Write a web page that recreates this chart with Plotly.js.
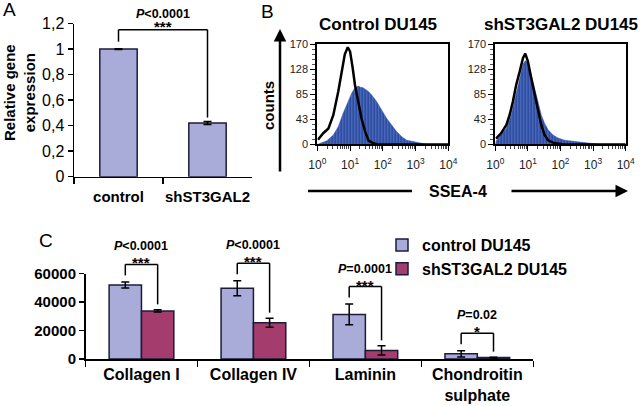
<!DOCTYPE html>
<html>
<head>
<meta charset="utf-8">
<script src="https://cdn.plot.ly/plotly-3.0.1.min.js"></script>
<style>html,body{margin:0;padding:0;background:#fff}#chart{width:640px;height:406px}</style>
</head>
<body>
<div id="chart"></div>
<script>
// ---------- Panel A data ----------
const catsA = ['control', 'shST3GAL2'];
const valsA = [1.0, 0.42];
const errA = [0.003, 0.012];
const pA = 'P&lt;0.0001';
const starsA = '***';

// ---------- Panel B data (flow histograms; x = log10 fluorescence, y = counts) ----------
const ctrlIsoExp  = [0.02,0.18,0.34,0.49,0.64,0.74,0.84,0.93,1.00,1.08,1.15,1.25,1.35,1.46,1.56,1.71,1.85,4.0];
const ctrlIsoCnt  = [8,19,27,50,90,124,153,165,158,130,101,73,44,22,7,2,0,0];
const ctrlSseaExp = [0.0,0.08,0.29,0.49,0.64,0.79,0.95,1.05,1.15,1.25,1.32,1.40,1.56,1.66,1.81,1.96,2.12,2.27,2.42,2.58,2.73,2.93,3.13,3.34,4.0];
const ctrlSseaCnt = [0,2,6,16,30,53,76,87,96,99,97,96,90,84,73,59,44,33,22,13,7,5,2,0,0];
const shIsoExp    = [0.02,0.18,0.34,0.44,0.54,0.64,0.75,0.85,0.92,1.00,1.10,1.21,1.31,1.41,1.51,1.62,1.77,1.92,2.10,4.0];
const shIsoCnt    = [10,19,33,50,73,101,124,147,154,141,113,84,56,33,16,7,3,2,0,0];
const shSseaExp   = [0.0,0.03,0.18,0.34,0.49,0.64,0.75,0.85,0.92,1.00,1.10,1.21,1.31,1.41,1.51,1.62,1.77,1.92,2.13,2.43,2.74,3.05,3.30,4.0];
const shSseaCnt   = [0,6,16,27,50,84,113,136,142,139,119,96,73,50,36,25,16,11,7,5,2,1,0,0];
const decadeVals = [1, 10, 100, 1000, 10000];
const decadeText = ['10<sup>0</sup>','10<sup>1</sup>','10<sup>2</sup>','10<sup>3</sup>','10<sup>4</sup>'];
const countTicks = [0, 43, 85, 128, 170];

// ---------- Panel C data ----------
const catsC = ['Collagen I', 'Collagen IV', 'Laminin', 'Chondroitin<br>sulphate'];
const ctrlC = [52000, 49700, 31300, 3600];
const ctrlCErr = [2100, 5250, 7250, 2200];
const shC = [33700, 25500, 6000, 1000];
const shCErr = [800, 3150, 3250, 300];
const pC = ['P&lt;0.0001', 'P&lt;0.0001', 'P=0.0001', 'P=0.02'];
const starsC = ['***', '***', '***', '*'];
const seriesNames = ['control DU145', 'shST3GAL2 DU145'];

// ---------- styling ----------
const W = 640, H = 406;
const fx = p => p / W;
const fy = p => 1 - p / H;
const FONT = 'Liberation Sans, Arial, Helvetica, sans-serif';
const LAV = '#a9abd8';
const MAG = '#a43c6e';
const EDGE = '#1c1c3a';
const BLUE = '#2e4ea4';

// axis geometry (paper fractions)
const domAx = [fx(74), fx(252)], domAy = [fy(176.7), fy(23.5)], rangeA = [0, 1.2];
const domCx = [fx(85.5), fx(533.3)], domCy = [fy(359), fy(273.5)], rangeC = [0, 60000];
// map data values to paper coordinates (so brackets may extend above the plotted range)
const catPaper = (dom, n, i) => dom[0] + (i + 0.5) / n * (dom[1] - dom[0]);
const valPaper = (dom, rng, v) => dom[0] + (v - rng[0]) / (rng[1] - rng[0]) * (dom[1] - dom[0]);

const pow10 = a => a.map(e => Math.pow(10, e));
const minorLog = [];
[1, 10, 100, 1000].forEach(d => { for (let k = 2; k <= 9; k++) minorLog.push(k * d); });

const traces = [
  // Panel A
  { type: 'bar', x: catsA, y: valsA, xaxis: 'x', yaxis: 'y', width: 0.42, showlegend: false,
    marker: { color: LAV, line: { color: EDGE, width: 1.5 } },
    error_y: { type: 'data', array: errA, visible: true, color: '#000', thickness: 1.5, width: 4 } },
  // Panel B left
  { type: 'scatter', mode: 'lines', x: pow10(ctrlSseaExp), y: ctrlSseaCnt, xaxis: 'x2', yaxis: 'y2',
    fill: 'tozeroy', fillcolor: BLUE, line: { color: BLUE, width: 0.5 }, showlegend: false,
    fillpattern: { shape: '|', bgcolor: BLUE, fgcolor: '#5f7cc6', size: 3, solidity: 0.25 } },
  { type: 'scatter', mode: 'lines', x: pow10(ctrlIsoExp), y: ctrlIsoCnt, xaxis: 'x2', yaxis: 'y2',
    line: { color: '#000', width: 2.5 }, showlegend: false },
  // Panel B right
  { type: 'scatter', mode: 'lines', x: pow10(shSseaExp), y: shSseaCnt, xaxis: 'x3', yaxis: 'y3',
    fill: 'tozeroy', fillcolor: BLUE, line: { color: BLUE, width: 0.5 }, showlegend: false,
    fillpattern: { shape: '|', bgcolor: BLUE, fgcolor: '#5f7cc6', size: 3, solidity: 0.25 } },
  { type: 'scatter', mode: 'lines', x: pow10(shIsoExp), y: shIsoCnt, xaxis: 'x3', yaxis: 'y3',
    line: { color: '#000', width: 2.5 }, showlegend: false },
  // Panel C
  { type: 'bar', name: seriesNames[0], x: catsC, y: ctrlC, xaxis: 'x4', yaxis: 'y4',
    width: 0.289, offset: -0.289,
    marker: { color: LAV, line: { color: EDGE, width: 1.5 } },
    error_y: { type: 'data', array: ctrlCErr, visible: true, color: '#000', thickness: 1.5, width: 4 } },
  { type: 'bar', name: seriesNames[1], x: catsC, y: shC, xaxis: 'x4', yaxis: 'y4',
    width: 0.289, offset: 0,
    marker: { color: MAG, line: { color: EDGE, width: 1.5 } },
    error_y: { type: 'data', array: shCErr, visible: true, color: '#000', thickness: 1.5, width: 4 } }
];

const shapes = [];
const annotations = [];
const pline = (x0, y0, x1, y1, w) => shapes.push({ type: 'line', xref: 'paper', yref: 'paper', x0, y0, x1, y1, line: { color: '#000', width: w || 1.5 } });
const txt = (text, x, y, size, opts) => annotations.push(Object.assign({
  text, x, y, xref: 'paper', yref: 'paper', showarrow: false, xanchor: 'center', yanchor: 'middle',
  font: { family: FONT, size, color: '#000' } }, opts || {}));

// Panel A bracket (offsets in data units; k = data units per pixel)
const kA = 1.2 / 153.2;
{
  const yA = v => valPaper(domAy, rangeA, v);
  const xl = catPaper(domAx, catsA.length, 0), xr = catPaper(domAx, catsA.length, 1);
  const lb = valsA[0] + errA[0] + 7 * kA;
  const top = lb + 12 * kA;
  const rb = valsA[1] + errA[1] + 4 * kA;
  pline(xl, yA(lb), xl, yA(top));
  pline(xl, yA(top), xr, yA(top));
  pline(xr, yA(top), xr, yA(rb));
  txt('<b>' + starsA + '</b>', (xl + xr) / 2, yA(top + 3 * kA), 15);
  txt('<b><i>P</i>' + pA.slice(1) + '</b>', (xl + xr) / 2, yA(top + 16 * kA), 12.5);
}

// Panel C brackets
const kC = 60000 / 85.5;
catsC.forEach((c, i) => {
  const yC = v => valPaper(domCy, rangeC, v);
  const cx = catPaper(domCx, catsC.length, i);
  const half = 0.1445 * (domCx[1] - domCx[0]) / catsC.length;
  const xl = cx - half, xr = cx + half;
  const lb = ctrlC[i] + ctrlCErr[i] + 6.5 * kC;
  const top = lb + 11 * kC;
  const rb = shC[i] + shCErr[i] + 5.5 * kC;
  pline(xl, yC(lb), xl, yC(top));
  pline(xl, yC(top), xr, yC(top));
  pline(xr, yC(top), xr, yC(rb));
  txt('<b>' + starsC[i] + '</b>', cx, yC(top + 1.5 * kC), 15);
  txt('<b><i>P</i>' + pC[i].slice(1) + '</b>', cx, yC(top + 18 * kC), 12.5);
});

// Panel labels and texts
txt('A', fx(9), fy(10), 19);
txt('B', fx(267), fy(11), 19);
txt('C', fx(46), fy(240), 19);
txt('<b>Relative gene<br>expression</b>', fx(19), fy(93), 15, { textangle: -90 });
txt('<b>Control DU145</b>', fx(378), fy(25), 17);
txt('<b>shST3GAL2 DU145</b>', fx(560.5), fy(25), 17);
txt('<b>counts</b>', fx(268), fy(106), 15, { textangle: -90 });
txt('<b>SSEA-4</b>', fx(457.5), fy(191), 16);

// Arrows in panel B
annotations.push({ text: '', xref: 'paper', yref: 'paper', x: fx(280), y: fy(29), showarrow: true,
  ax: 0, ay: 144, arrowhead: 2, arrowsize: 1, arrowwidth: 2.5, arrowcolor: '#000' });
annotations.push({ text: '', xref: 'paper', yref: 'paper', x: fx(628), y: fy(191), showarrow: true,
  ax: -118, ay: 0, arrowhead: 2, arrowsize: 1, arrowwidth: 2.5, arrowcolor: '#000' });
pline(fx(308), fy(191), fx(412), fy(191), 2.5);

const baseAx = { showgrid: false, zeroline: false, showline: true, linecolor: '#000', ticks: 'outside', tickcolor: '#000' };
const histX = (dom, anchor) => Object.assign({}, baseAx, {
  domain: dom, anchor, type: 'log', range: [0, 4], mirror: true, linewidth: 2, ticklen: 5, tickwidth: 1,
  tickmode: 'array', tickvals: decadeVals, ticktext: decadeText, ticklabelstandoff: 3,
  tickfont: { family: FONT, size: 12, color: '#222' },
  minor: { ticks: 'outside', ticklen: 3, tickcolor: '#444', tickmode: 'array', tickvals: minorLog }
});
const histY = (anchor) => Object.assign({}, baseAx, {
  domain: [fy(144.4), fy(44.3)], anchor, range: [0, 170], mirror: true, linewidth: 2, ticklen: 5, tickwidth: 1,
  tickmode: 'array', tickvals: countTicks,
  tickfont: { family: FONT, size: 11, color: '#222' },
  minor: { ticks: 'outside', ticklen: 3, tickcolor: '#555', dtick: 8.5, tick0: 0 }
});

const layout = {
  width: W, height: H, margin: { l: 0, r: 0, t: 0, b: 0 },
  paper_bgcolor: '#fff', plot_bgcolor: 'rgba(0,0,0,0)',
  separators: ',.',
  font: { family: FONT, color: '#000' },
  xaxis: Object.assign({}, baseAx, { domain: domAx, anchor: 'y', type: 'category', linewidth: 1.5,
    tickson: 'boundaries', ticklen: 6, tickwidth: 1.5, tickangle: 0, ticklabelstandoff: 6,
    tickfont: { family: FONT, size: 15, color: '#000', weight: 'bold' } }),
  yaxis: Object.assign({}, baseAx, { domain: domAy, anchor: 'x', range: rangeA, dtick: 0.2,
    linewidth: 1.5, ticklen: 5, tickwidth: 1.5,
    tickfont: { family: FONT, size: 16, color: '#000' } }),
  xaxis2: histX([fx(317.3), fx(448.3)], 'y2'),
  yaxis2: histY('x2'),
  xaxis3: histX([fx(495.3), fx(625.7)], 'y3'),
  yaxis3: histY('x3'),
  xaxis4: Object.assign({}, baseAx, { domain: domCx, anchor: 'y4', type: 'category', linewidth: 1.5,
    tickson: 'boundaries', ticklen: 6, tickwidth: 1.5, tickangle: 0,
    tickfont: { family: FONT, size: 16, color: '#000', weight: 'bold' } }),
  yaxis4: Object.assign({}, baseAx, { domain: domCy, anchor: 'x4', range: rangeC, dtick: 20000,
    tickformat: 'd', linewidth: 1.5, ticklen: 5, tickwidth: 1.5,
    tickfont: { family: FONT, size: 15, color: '#000', weight: 'bold' } }),
  showlegend: true,
  legend: { x: fx(382), y: fy(228), xanchor: 'left', yanchor: 'top', bgcolor: 'rgba(0,0,0,0)',
    font: { family: FONT, size: 16, color: '#000', weight: 'bold' }, tracegroupgap: 0, itemclick: false },
  shapes, annotations
};

Plotly.newPlot('chart', traces, layout, { displayModeBar: false, staticPlot: true });
</script>
</body>
</html>
